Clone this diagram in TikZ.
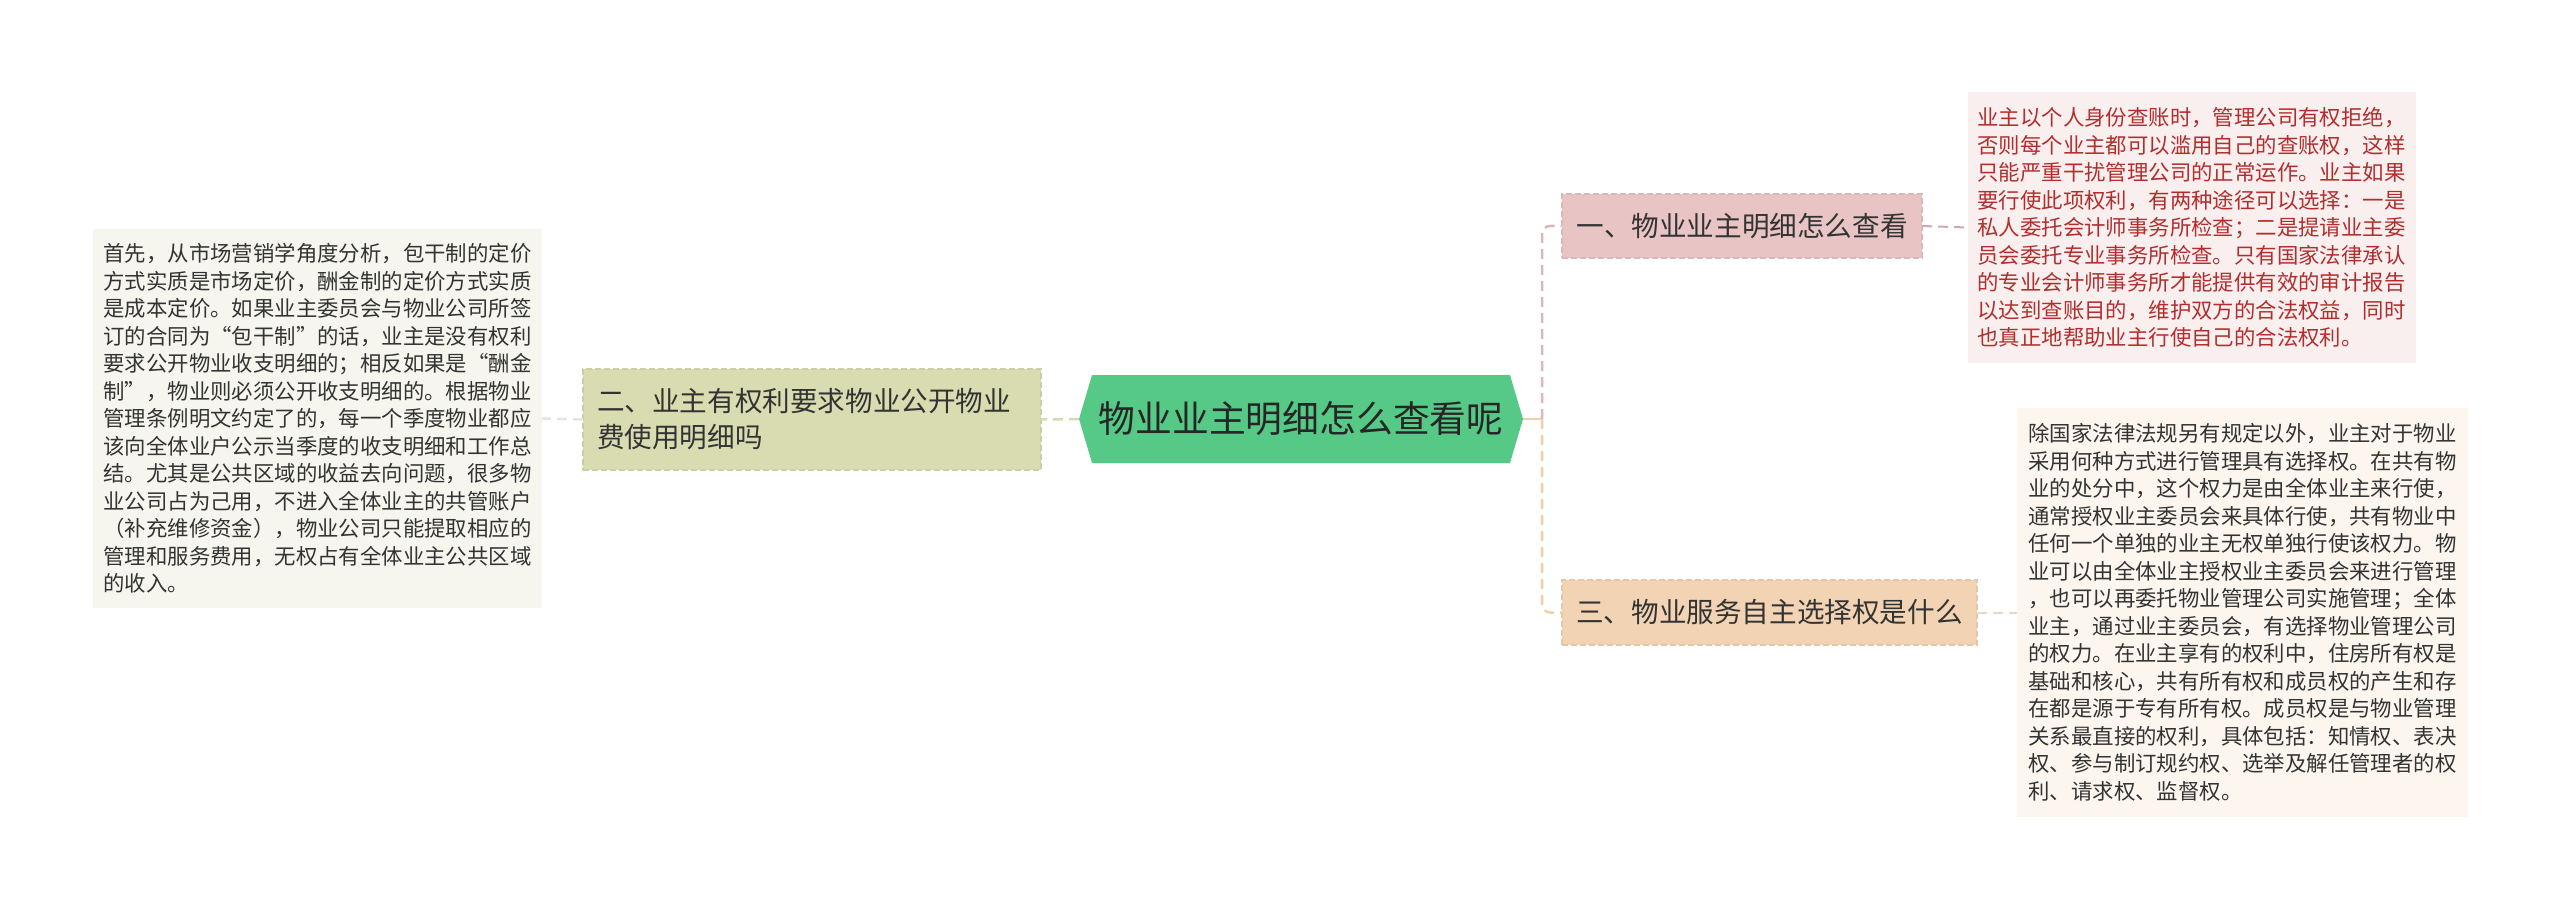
\documentclass[tikz,border=0pt]{standalone}
\usepackage{fontspec}
\setmainfont{Noto Sans CJK SC}
\usetikzlibrary{shapes.symbols}
\definecolor{rootgreen}{HTML}{55C985}
\definecolor{inkgray}{HTML}{333333}
\definecolor{inkred}{HTML}{B22E2E}
\definecolor{olivefill}{HTML}{D9DCB0}
\definecolor{pinkfill}{HTML}{E8C4C4}
\definecolor{peachfill}{HTML}{F2D4B4}
\definecolor{olivenote}{HTML}{F6F6EF}
\definecolor{pinknote}{HTML}{F9EFEF}
\definecolor{peachnote}{HTML}{FCF6EF}
\definecolor{oliveline}{HTML}{D8D9B2}
\definecolor{pinkline}{HTML}{DDB6BD}
\definecolor{peachline}{HTML}{F0CEA8}

\begin{document}
\begin{tikzpicture}[x=1pt,y=-1pt,
    every node/.style={inner sep=0pt,outer sep=0pt,text=inkgray},
    rootbox/.style={signal,signal to=east and west,signal pointer angle=147,
        fill=rootgreen,minimum width=444pt,minimum height=88pt,
        font=\fontsize{36.8}{44}\selectfont,text=black!85},
    branch/.style={draw=#1!94!black,fill=#1,dash pattern=on 6pt off 3pt,
        line width=1.5pt,inner xsep=14pt,align=left,
        font=\fontsize{27.6}{36}\selectfont},
    note/.style={fill=#1,inner xsep=10pt,inner ysep=12pt,align=left,
        font=\fontsize{21.4}{27.5}\selectfont},
    link/.style={draw=#1,line width=2.5pt,dash pattern=on 10pt off 6pt}]
    \useasboundingbox (0,0) rectangle (2560,909);

    % centre
    \node[rootbox] (root) at (1301,419) {物业业主明细怎么查看呢};

    % left side
    \node[branch=olivefill,minimum height=101pt,text width=430pt] (own)
        at (812,419.5) {二、业主有权利要求物业公开物业\\费使用明细吗};
    \node[note=olivenote,minimum width=449pt,minimum height=379pt] (ownnote)
        at (317.5,418.5) {首先，从市场营销学角度分析，包干制的定价\\
        方式实质是市场定价，酬金制的定价方式实质\\
        是成本定价。如果业主委员会与物业公司所签\\
        订的合同为“包干制”的话，业主是没有权利\\
        要求公开物业收支明细的；相反如果是“酬金\\
        制”，物业则必须公开收支明细的。根据物业\\
        管理条例明文约定了的，每一个季度物业都应\\
        该向全体业户公示当季度的收支明细和工作总\\
        结。尤其是公共区域的收益去向问题，很多物\\
        业公司占为己用，不进入全体业主的共管账户\\
        （补充维修资金），物业公司只能提取相应的\\
        管理和服务费用，无权占有全体业主公共区域\\
        的收入。};

    % right side
    \node[branch=pinkfill,minimum width=360pt,minimum height=64pt] (check)
        at (1742,226) {一、物业业主明细怎么查看};
    \node[note=pinknote,minimum width=443pt,minimum height=271pt,text=inkred] (checknote)
        at (2191.5,227.5) {业主以个人身份查账时，管理公司有权拒绝，\\
        否则每个业主都可以滥用自己的查账权，这样\\
        只能严重干扰管理公司的正常运作。业主如果\\
        要行使此项权利，有两种途径可以选择：一是\\
        私人委托会计师事务所检查；二是提请业主委\\
        员会委托专业事务所检查。只有国家法律承认\\
        的专业会计师事务所才能提供有效的审计报告\\
        以达到查账目的，维护双方的合法权益，同时\\
        也真正地帮助业主行使自己的合法权利。};
    \node[branch=peachfill,minimum width=415pt,minimum height=65pt] (choice)
        at (1769.5,612.5) {三、物业服务自主选择权是什么};
    \node[note=peachnote,minimum width=451pt,minimum height=409pt] (choicenote)
        at (2242.5,612.5) {除国家法律法规另有规定以外，业主对于物业\\
        采用何种方式进行管理具有选择权。在共有物\\
        业的处分中，这个权力是由全体业主来行使，\\
        通常授权业主委员会来具体行使，共有物业中\\
        任何一个单独的业主无权单独行使该权力。物\\
        业可以由全体业主授权业主委员会来进行管理\\
        ，也可以再委托物业管理公司实施管理；全体\\
        业主，通过业主委员会，有选择物业管理公司\\
        的权力。在业主享有的权利中，住房所有权是\\
        基础和核心，共有所有权和成员权的产生和存\\
        在都是源于专有所有权。成员权是与物业管理\\
        关系最直接的权利，具体包括：知情权、表决\\
        权、参与制订规约权、选举及解任管理者的权\\
        利、请求权、监督权。};

    % connectors
    \coordinate (fork) at ([xshift=19pt]root.east);
    \draw[peachline,line width=2.5pt] (root.east) -- (fork);
    \draw[link=pinkline,rounded corners=8pt] (fork) |- (check.west);
    \draw[link=peachline,rounded corners=8pt] (fork) |- (choice.west);
    \draw[link=oliveline] (root.west) -- (own.east);
    \draw[link=oliveline!70!gray!40] (own.west) -- (ownnote.east);
    \draw[link=pinkline!80!gray,line width=2pt] (check.east) -- (checknote.west);
    \draw[link=peachline!80!gray!60,line width=2pt] (choice.east) -- (choicenote.west);
\end{tikzpicture}
\end{document}
